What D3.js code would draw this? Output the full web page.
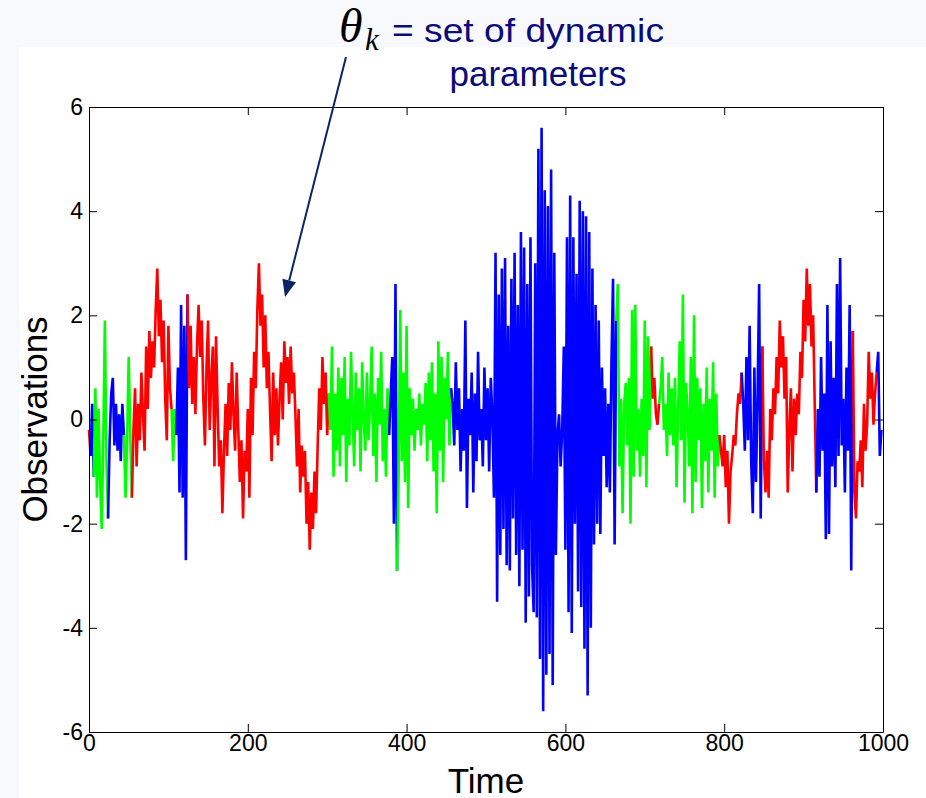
<!DOCTYPE html>
<html>
<head>
<meta charset="utf-8">
<script src="https://cdn.jsdelivr.net/npm/d3@7"></script>
<style>
  body { margin: 0; background: #f7f9fd; }
  svg { display: block; }
</style>
</head>
<body>
<script>
// observations, one value every obsStep time steps
var obsStep = 2;
var obs = [
  -0.2, -0.7,
  0.3, -1.1,
  0.6, -1.5, 0.2, -1.2, -2.1, -0.4, 1.9, -0.8, -1.9,
  -0.4, 0.5, 0.8, -0.5, 0.3, -0.6, 0.1, -0.8, 0.3, -0.3,
  -1.5, -0.4, 1.2, -0.3, -1.5,
  -0.2, 0.6, -0.9, 0.3, -0.4, 0.9, 0.1, -0.6, 1.4, 0.2,
  1.7, 0.8, 1.5, 1.0, 2.1, 2.9, 1.6, 2.3, 1.1, 1.9,
  0.4, -0.4, 1.8, 0.6, 0.2,
  -0.8, 0.2, -0.3,
  1.0, -1.4, 2.2, -1.5, 1.8, -2.7, 2.4,
  0.6, 1.8, 0.3, 1.2, 0.1, 1.4, 2.2, 1.2, 1.9, 0.4,
  -0.5, 1.0, 1.9, -0.2, 0.8, 1.4, -0.9, 1.6, 0.2, -0.9,
  -0.4, -1.8, -0.6, 0.3, -0.7, 0.7, -0.2, 1.1, 0.1, -0.6,
  0.9, -0.2, -1.2, -0.4, -1.9, -0.6, -1.0, 0.2, -1.5, 0.8,
  -0.3, 1.3, 0.6, 2.1, 3.0, 1.8, 2.4, 1.0, 2.0, 0.6,
  1.3, 0.2, -0.8, 0.9, -0.3, 0.6, -0.5, 0.4, 1.1, 0.0,
  1.5, 0.7, 1.2, 0.3, 1.4, 0.5, 0.9, 0.1, -0.9, 0.2,
  -1.4, -0.5, -1.1, -0.6, -2.0, -1.2, -2.5, -1.4, -2.1, -1.0,
  -1.8, -0.5, 0.6, -0.2, 1.2, 0.3, 0.9, -0.3, 0.5,
  -0.2, 1.4, -1.1, 0.5, -0.6, 1.0, -0.9, 0.8, -0.3, 1.2,
  -1.2, 0.4, -0.5, 1.3, 0.1, -0.9, 0.9, -0.2, 0.6, -1.0,
  1.1, 0.0, -0.6, 0.9, -0.4, 0.3, 1.4, -0.7, 0.5, -1.2,
  0.8, -0.1, 1.3, -0.8, 0.2, -1.1, 0.6, -0.3,
  0.5, 1.2, -2.0, 2.6, -2.9,
  -1.0, 2.1, -0.8, 0.9, -1.2, 1.8, -1.7, 0.6, -0.3, 0.4,
  -0.6, 0.2, -0.2, 0.5, -0.5, 0.3, -0.1, 0.7, -0.8, 0.9,
  -0.4, 1.1, -1.0, 0.5, -1.8, 1.5, -0.6, 1.2, -1.2, 0.8,
  0.0, 1.3, -0.5, 0.6,
  0.3, -0.5, 1.1, -0.2, 0.6, -1.0, 0.2, -0.6, 1.9, -1.7,
  0.4, -0.3, 0.9, -1.4, 0.5, -0.8, 1.3, -0.4,
  0.2, -0.9, 1.0, -0.4, 0.6, -1.0, 0.8, 0.1,
  -1.5, 3.2, -3.5, 2.4, -2.6,
  2.9, -2.1, 3.1, -2.8, 1.8, -2.9, 2.7, -1.9, 3.2, -2.6, 2.2,
  -3.2, 3.6, -2.5, 3.3, -3.9, 2.6, -3.4, 3.5, -2.8, -3.7, 3.0,
  -3.8, 5.2, -4.6, 5.6, -5.6, 4.4, -4.9, 4.1, -4.5, 4.8, -5.1, 3.2, -2.6,
  -0.3, 0.1, -0.9, -0.2,
  1.4, -2.5, 3.5, -3.7, 4.3, -4.1, 3.5, -2.0, 2.8, -3.3, 4.2, -3.6,
  4.0, -4.4, 3.9, -5.3, 3.6, -4.0, 2.9, -2.4, 2.2,
  -2.0, 1.9, -2.2, 1.0, -0.7, 0.6, -1.3, 0.3, -1.4, 1.1, 2.7, -2.4, 1.9,
  2.6, -0.9, 0.4, -1.8, 0.3, 0.7, -0.5, 0.8, -2.0, 2.1,
  -1.1, 2.2, -0.6, 0.2, -1.1, 0.4, -0.7, 1.9, -1.3, 1.6, -0.2, 1.4,
  0.4, 0.8, 0.1, -0.1, 0.3,
  0.6, 1.2, -0.2, 0.3, -0.7, 0.9, -0.3, 0.6, -0.5, 0.8,
  -1.3, 0.2, 1.5, -0.4, 2.4, -1.6, 0.7, 0.1, -0.9, 1.2,
  -1.8, 2.0, -1.2, 0.8, -0.4, 0.6, -1.7, 0.3, -0.8, 1.0,
  -1.4, 0.4, -0.6, 1.1, -1.5, 0.5, -0.9, -0.3,
  -0.6, -0.9, -0.3, -1.3, -0.6, -2.0, -1.0, -0.7, -0.3, -0.5, 0.1, 0.5, 0.3, 0.9,
  0.3, -0.6, 1.2, -0.4, 1.8, -0.8, -1.8, 1.0, -1.2, 0.4, 2.6, -1.9, 1.4,
  -0.8, -1.4, -0.6, -1.5, 0.2, -0.4, 0.6, 0.1, 1.2, 0.5,
  1.9, 1.0, 1.6, 0.4, 1.2, -1.4, -0.2, 0.6, -1.0, 0.4,
  -0.3, 0.5, 0.1, 1.3, 0.8, 2.3, 1.5, 2.9, 1.8, 2.6,
  1.4, 2.0, 0.3, -1.4,
  0.2, -1.1, 1.2, -0.6, 0.5, -2.3, 2.2, -2.2, 1.5, -0.9,
  0.8, -1.3, 2.6, -0.7, 3.1, -0.5, 0.4, -1.4, 1.0, -0.6, 2.2, -2.9, 1.7,
  -1.4, -1.9, -0.8, -1.0, -0.4, -1.3, 0.3, -0.6, -0.1, 1.3, 0.4, 0.9, -0.1, 0.5, 0.9,
  1.3, -0.7, -0.2
];

// regime segments: start time and active mode
var segStart = [0, 4, 8, 26, 46, 56, 106, 112, 126, 304, 380, 390, 458, 666, 710, 720, 796, 824, 850, 918, 964, 994];
var segMode  = ["r", "b", "g", "b", "g", "r", "g", "b", "r", "g", "b", "g", "b", "g", "r", "g", "r", "b", "r", "b", "r", "b"];
var modeColor = {r: "#ff0000", g: "#00ff00", b: "#0000ff"};

var xTicks = [0, 200, 400, 600, 800, 1000];
var yTicks = [-6, -4, -2, 0, 2, 4, 6];

draw();

function draw() {
  var W = 926, H = 798;
  var plot = {left: 89, right: 883, top: 107, bottom: 732};
  var navy = "#0a0a78";
  var font = "'Liberation Sans', Arial, sans-serif";
  var serif = "'Liberation Serif', 'Times New Roman', serif";

  var svg = d3.select("body").append("svg")
      .attr("width", W)
      .attr("height", H);

  // white slide panel
  svg.append("rect")
      .attr("x", 19).attr("y", 47)
      .attr("width", W - 19).attr("height", H - 47)
      .attr("fill", "#ffffff");

  var x = d3.scaleLinear().domain([0, 1000]).range([plot.left, plot.right]);
  var y = d3.scaleLinear().domain([-6, 6]).range([plot.bottom, plot.top]);

  var points = obs.map(function(v, i) { return {t: i * obsStep, v: v}; });

  var line = d3.line()
      .x(function(d) { return x(d.t); })
      .y(function(d) { return y(d.v); });

  // one path per segment, joined to the last point of the previous one
  var gData = svg.append("g").attr("id", "series");
  segStart.forEach(function(s, k) {
    var e = k < segStart.length - 1 ? segStart[k + 1] : 1000;
    var seg = points.filter(function(d) { return d.t >= s - obsStep && d.t < e; });
    gData.append("path")
        .attr("d", line(seg))
        .attr("fill", "none")
        .attr("stroke", modeColor[segMode[k]])
        .attr("stroke-width", 2.6)
        .attr("stroke-linejoin", "bevel");
  });

  // axes, ticks pointing inward, box on (plain hyphen minus like MATLAB)
  var fmt = function(d) { return String(d); };
  svg.append("g")
      .attr("transform", "translate(0," + plot.bottom + ")")
      .call(d3.axisBottom(x).tickValues(xTicks).tickFormat(fmt)
        .tickSizeInner(-8).tickSizeOuter(0).tickPadding(3));
  svg.append("g")
      .attr("transform", "translate(" + plot.left + ",0)")
      .call(d3.axisLeft(y).tickValues(yTicks).tickFormat(fmt)
        .tickSizeInner(-8).tickSizeOuter(0).tickPadding(6));
  svg.append("g")
      .attr("transform", "translate(0," + plot.top + ")")
      .call(d3.axisTop(x).tickValues(xTicks).tickSizeInner(-8).tickSizeOuter(0).tickFormat(""));
  svg.append("g")
      .attr("transform", "translate(" + plot.right + ",0)")
      .call(d3.axisRight(y).tickValues(yTicks).tickSizeInner(-8).tickSizeOuter(0).tickFormat(""));

  svg.selectAll(".tick text")
      .attr("font-family", font)
      .attr("font-size", 23)
      .attr("fill", "#000");
  svg.selectAll(".domain, .tick line").attr("stroke", "#000").attr("stroke-width", 1);

  // axis titles
  svg.append("text")
      .attr("x", (plot.left + plot.right) / 2)
      .attr("y", 793)
      .attr("text-anchor", "middle")
      .attr("font-family", font)
      .attr("font-size", 35)
      .text("Time");

  svg.append("text")
      .attr("transform", "translate(47," + y(0) + ") rotate(-90)")
      .attr("text-anchor", "middle")
      .attr("font-family", font)
      .attr("font-size", 35)
      .text("Observations");

  // annotation
  var note = svg.append("g").attr("id", "note");
  note.append("text")
      .attr("x", 339).attr("y", 42)
      .attr("font-family", serif)
      .attr("font-style", "italic")
      .attr("font-size", 48)
      .attr("fill", "#000")
      .text("θ");
  note.append("text")
      .attr("x", 365).attr("y", 50)
      .attr("font-family", serif)
      .attr("font-style", "italic")
      .attr("font-size", 31)
      .attr("fill", "#000")
      .text("k");
  note.append("text")
      .attr("x", 392).attr("y", 42)
      .attr("font-family", font)
      .attr("font-size", 34)
      .attr("textLength", 272)
      .attr("lengthAdjust", "spacingAndGlyphs")
      .attr("fill", navy)
      .text("= set of dynamic");
  note.append("text")
      .attr("x", 538).attr("y", 86)
      .attr("text-anchor", "middle")
      .attr("font-family", font)
      .attr("font-size", 35)
      .attr("fill", navy)
      .text("parameters");

  // arrow
  var ax0 = 346, ay0 = 57, ax1 = 285, ay1 = 297;
  var ang = Math.atan2(ay1 - ay0, ax1 - ax0);
  var hl = 17, hw = 7;
  var bx = ax1 - hl * Math.cos(ang), by = ay1 - hl * Math.sin(ang);
  note.append("line")
      .attr("x1", ax0).attr("y1", ay0)
      .attr("x2", bx).attr("y2", by)
      .attr("stroke", "#0b2466")
      .attr("stroke-width", 2);
  note.append("path")
      .attr("d", "M" + ax1 + "," + ay1 +
        "L" + (bx + hw * Math.sin(ang)) + "," + (by - hw * Math.cos(ang)) +
        "L" + (bx - hw * Math.sin(ang)) + "," + (by + hw * Math.cos(ang)) + "Z")
      .attr("fill", "#0b2466");
}
</script>
</body>
</html>
